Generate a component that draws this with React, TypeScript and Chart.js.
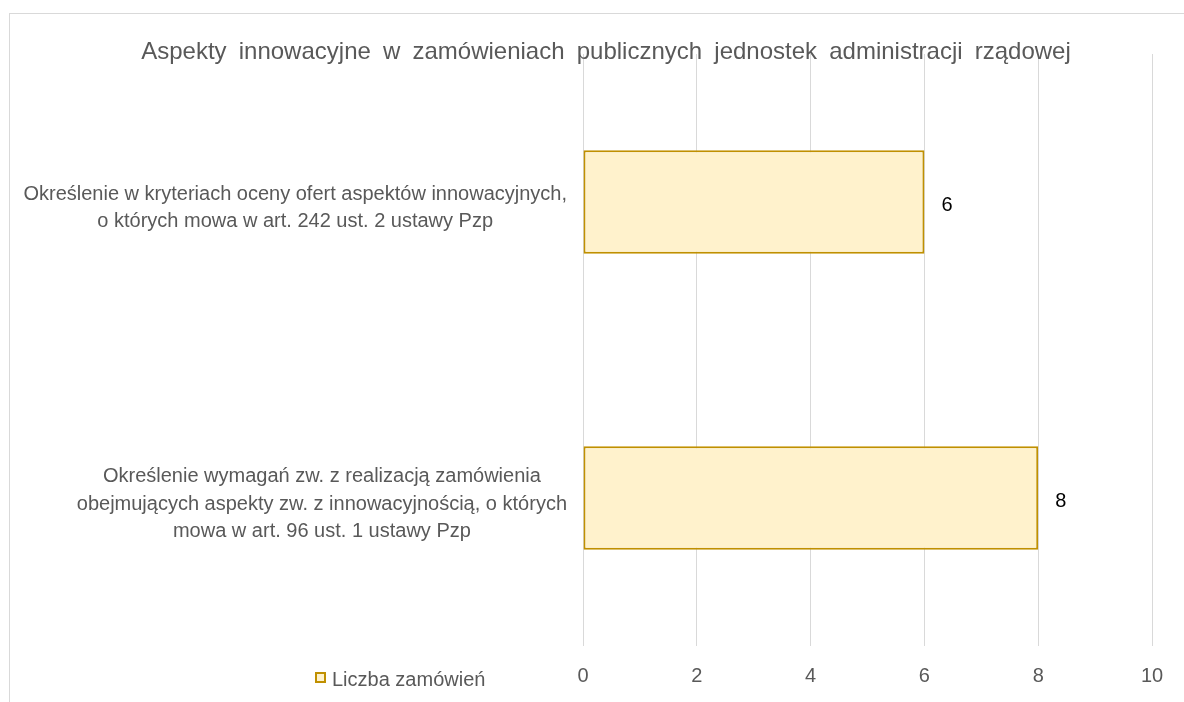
import React, { useEffect, useRef } from "react";
import { Chart, registerables } from "chart.js";

Chart.register(...registerables);

const chartTitle =
  "Aspekty innowacyjne w zamówieniach publicznych jednostek administracji rządowej";
const categoryLines: string[][] = [
  [
    "Określenie w kryteriach oceny ofert aspektów innowacyjnych,",
    "o których mowa w art. 242 ust. 2 ustawy Pzp",
  ],
  [
    "Określenie wymagań zw. z realizacją zamówienia",
    "obejmujących aspekty zw. z innowacyjnością, o których",
    "mowa w art. 96 ust. 1 ustawy Pzp",
  ],
];
const seriesLabel = "Liczba zamówień";
const seriesValues = [6, 8];
const axisMin = 0;
const axisMax = 10;
const axisStep = 2;

const FONT = "'Liberation Sans', Arial, sans-serif";
const TEXT = "#595959";
const FILL = "#FFF2CC";
const STROKE = "#C09000";

const decorPlugin = {
  id: "decor",
  afterDraw(chart: any) {
    const ctx = chart.ctx as CanvasRenderingContext2D;
    const area = chart.chartArea;
    ctx.save();
    // outer chart border
    ctx.strokeStyle = "#d9d9d9";
    ctx.lineWidth = 1;
    ctx.strokeRect(9.5, 13.5, 3000, 3000);

    // title
    ctx.fillStyle = TEXT;
    ctx.font = `24px ${FONT}`;
    ctx.textAlign = "center";
    ctx.textBaseline = "alphabetic";
    try {
      (ctx as any).wordSpacing = "5.5px";
    } catch (e) {}
    ctx.fillText(chartTitle, 606, 59);
    try {
      (ctx as any).wordSpacing = "0px";
    } catch (e) {}

    // category labels
    const yScale = chart.scales.y;
    ctx.font = `20px ${FONT}`;
    ctx.textBaseline = "middle";
    ctx.textAlign = "center";
    const right = area.left - 16;
    const lh = 27.5;
    categoryLines.forEach((lines, i) => {
      const cy = yScale.getPixelForValue(i) + 6;
      let maxW = 0;
      lines.forEach((l) => (maxW = Math.max(maxW, ctx.measureText(l).width)));
      const cx = right - maxW / 2;
      const y0 = cy - ((lines.length - 1) * lh) / 2;
      lines.forEach((l, j) => ctx.fillText(l, cx, y0 + j * lh));
    });

    // data labels
    const meta = chart.getDatasetMeta(0);
    ctx.fillStyle = "#000000";
    ctx.textAlign = "left";
    meta.data.forEach((el: any, i: number) => {
      ctx.fillText(String(seriesValues[i]), el.x + 17, el.y + 3);
    });

    // legend
    ctx.fillStyle = FILL;
    ctx.strokeStyle = STROKE;
    ctx.lineWidth = 2;
    ctx.fillRect(316, 673, 9, 9);
    ctx.strokeRect(316, 673, 9, 9);
    ctx.fillStyle = TEXT;
    ctx.textAlign = "left";
    ctx.font = `20px ${FONT}`;
    ctx.fillText(seriesLabel, 332, 680);
    ctx.restore();
  },
};

export default function App() {
  const ref = useRef<HTMLCanvasElement | null>(null);
  useEffect(() => {
    document.body.style.margin = "0";
    const canvas = ref.current!;
    const chart = new Chart(canvas, {
      type: "bar",
      data: {
        labels: categoryLines.map((l) => l.join(" ")),
        datasets: [
          {
            label: seriesLabel,
            data: seriesValues,
            backgroundColor: FILL,
            borderColor: STROKE,
            borderWidth: 2,
            borderSkipped: false,
            categoryPercentage: 1,
            barPercentage: 0.35,
          },
        ],
      },
      options: {
        indexAxis: "y",
        responsive: false,
        animation: false,
        devicePixelRatio: 1,
        layout: { padding: { left: 583, right: 32, top: 54, bottom: 0 } },
        plugins: {
          legend: { display: false },
          title: { display: false },
          tooltip: { enabled: false },
        },
        scales: {
          x: {
            min: axisMin,
            max: axisMax,
            ticks: {
              stepSize: axisStep,
              color: TEXT,
              font: { family: FONT, size: 20 },
              padding: 18,
            },
            grid: { color: "#d9d9d9", lineWidth: 1, drawTicks: false },
            border: { display: false },
            afterFit: (s: any) => {
              s.height = 56;
            },
          },
          y: {
            ticks: { display: false },
            grid: { display: false },
            border: { display: false },
            afterFit: (s: any) => {
              s.width = 0;
            },
          },
        },
      },
      plugins: [decorPlugin],
    });
    return () => chart.destroy();
  }, []);
  return (
    <div style={{ width: 1184, height: 702 }}>
      <canvas ref={ref} width={1184} height={702} />
    </div>
  );
}
